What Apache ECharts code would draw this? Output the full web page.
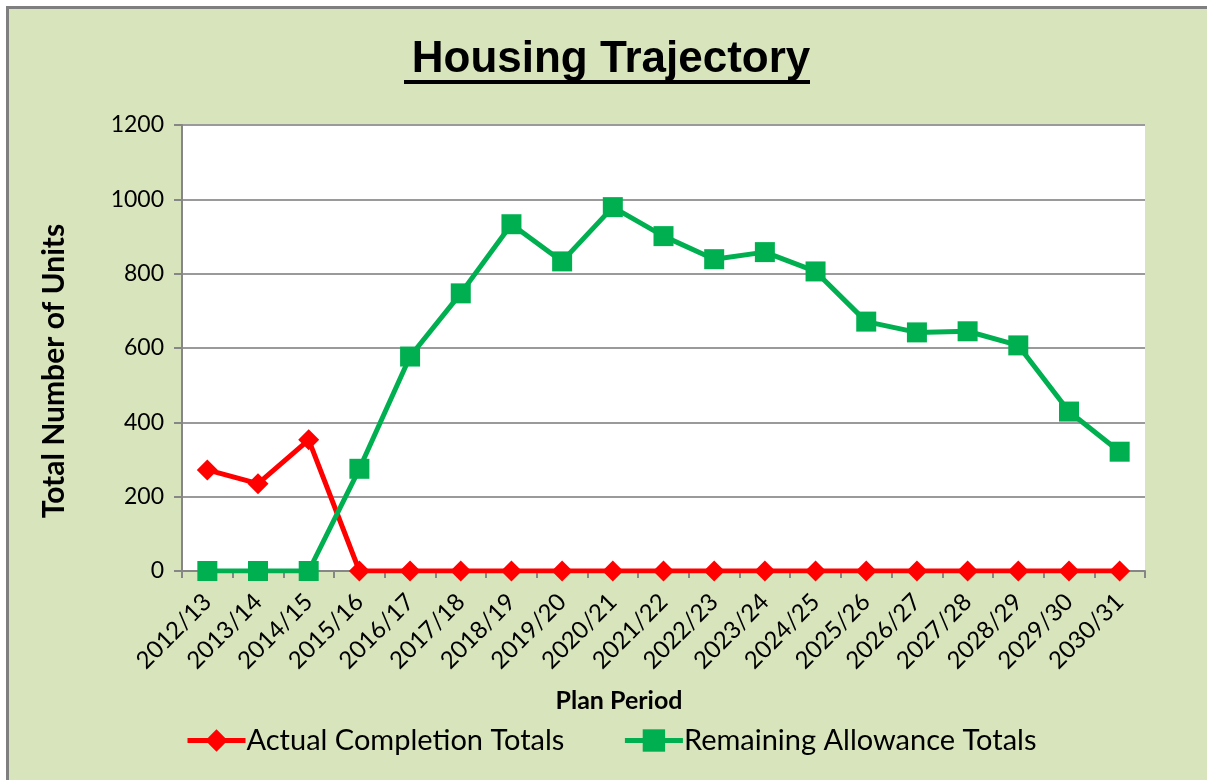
<!DOCTYPE html>
<html>
<head>
<meta charset="utf-8">
<script src="https://cdn.jsdelivr.net/npm/echarts@6/dist/echarts.min.js"></script>
<style>
  body { margin: 0; background: #fff; }
  #frame {
    position: absolute; left: 6px; top: 6px; width: 1201px; height: 774px;
    border-top: 3px solid #7f7f7f; border-left: 3px solid #7f7f7f;
    background: #d8e4bc; box-sizing: border-box;
  }
  #main { position: absolute; left: 0; top: 0; width: 1207px; height: 780px; }
</style>
</head>
<body>
<div id="frame"></div>
<div id="main"></div>
<script>
const periods = [
  '2012/13', '2013/14', '2014/15', '2015/16', '2016/17', '2017/18', '2018/19',
  '2019/20', '2020/21', '2021/22', '2022/23', '2023/24', '2024/25', '2025/26',
  '2026/27', '2027/28', '2028/29', '2029/30', '2030/31',
];
const actualCompletions = [272, 235, 353, 0, 0, 0, 0, 0, 0, 0, 0, 0, 0, 0, 0, 0, 0, 0, 0];
const remainingAllowance = [0, 0, 0, 275, 577, 747, 933, 833, 979, 901, 839, 858, 806, 671, 642, 645, 607, 429, 321];
const yTicks = [0, 200, 400, 600, 800, 1000, 1200];

const myChart = echarts.init(document.getElementById('main'));

const baseFont = 'Lato, "Open Sans", sans-serif';

const option = {
  backgroundColor: 'transparent',
  animation: false,
  title: [
    {
      text: 'Housing Trajectory',
      left: 606,
      textAlign: 'center',
      top: 33,
      textStyle: {
        fontFamily: '"Liberation Sans", Arial, sans-serif',
        fontWeight: 'bold',
        fontSize: 44,
        color: '#000',
      },
    },
    {
      text: 'Plan Period',
      left: 614,
      textAlign: 'center',
      top: 683,
      textStyle: {
        fontFamily: baseFont,
        fontWeight: 'bold',
        fontSize: 25,
        color: '#000',
      },
    },
  ],
  graphic: [
    // underline under the title
    {
      type: 'rect',
      shape: { x: 404, y: 80, width: 406, height: 4 },
      style: { fill: '#000' },
    },
    {
      type: 'text',
      x: 54,
      y: 371,
      rotation: Math.PI / 2,
      style: {
        text: 'Total Number of Units',
        align: 'center',
        verticalAlign: 'middle',
        fontFamily: baseFont,
        fontWeight: 'bold',
        fontSize: 30,
        fill: '#000',
      },
    },
  ],
  legend: {
    left: 180,
    top: 721,
    itemWidth: 58,
    itemHeight: 28,
    itemGap: 58,
    lineStyle: { width: 5 },
    textStyle: {
      fontFamily: baseFont,
      fontSize: 29,
      color: '#000',
      padding: [0, 0, 0, -4],
    },
    data: ['Actual Completion Totals', 'Remaining Allowance Totals'],
  },
  grid: {
    left: 182,
    right: 62,
    top: 125,
    bottom: 209,
    show: true,
    backgroundColor: '#fff',
    borderWidth: 0,
  },
  xAxis: {
    type: 'category',
    data: periods,
    boundaryGap: true,
    axisLine: { lineStyle: { color: '#868686', width: 2 } },
    axisTick: { show: true, length: 7, lineStyle: { color: '#868686', width: 2 } },
    axisLabel: {
      rotate: 45,
      margin: 27,
      interval: 0,
      fontFamily: baseFont,
      fontSize: 24,
      color: '#000',
    },
  },
  yAxis: {
    type: 'value',
    min: yTicks[0],
    max: yTicks[yTicks.length - 1],
    interval: 200,
    axisLine: { show: true, lineStyle: { color: '#868686', width: 2 } },
    axisTick: { show: true, length: 8, lineStyle: { color: '#868686', width: 2 } },
    axisLabel: {
      margin: 18,
      fontFamily: baseFont,
      fontSize: 23,
      color: '#000',
      formatter: (v) => String(v),
    },
    splitLine: { lineStyle: { color: '#9a9a9a', width: 2 } },
  },
  series: [
    {
      name: 'Actual Completion Totals',
      type: 'line',
      data: actualCompletions,
      symbol: 'diamond',
      symbolSize: 21,
      color: '#ff0000',
      lineStyle: { width: 5, color: '#ff0000' },
      itemStyle: { color: '#ff0000' },
    },
    {
      name: 'Remaining Allowance Totals',
      type: 'line',
      data: remainingAllowance,
      symbol: 'rect',
      symbolSize: 20,
      color: '#00b050',
      lineStyle: { width: 5, color: '#00b050' },
      itemStyle: { color: '#00b050' },
    },
  ],
};

myChart.setOption(option);
</script>
</body>
</html>
